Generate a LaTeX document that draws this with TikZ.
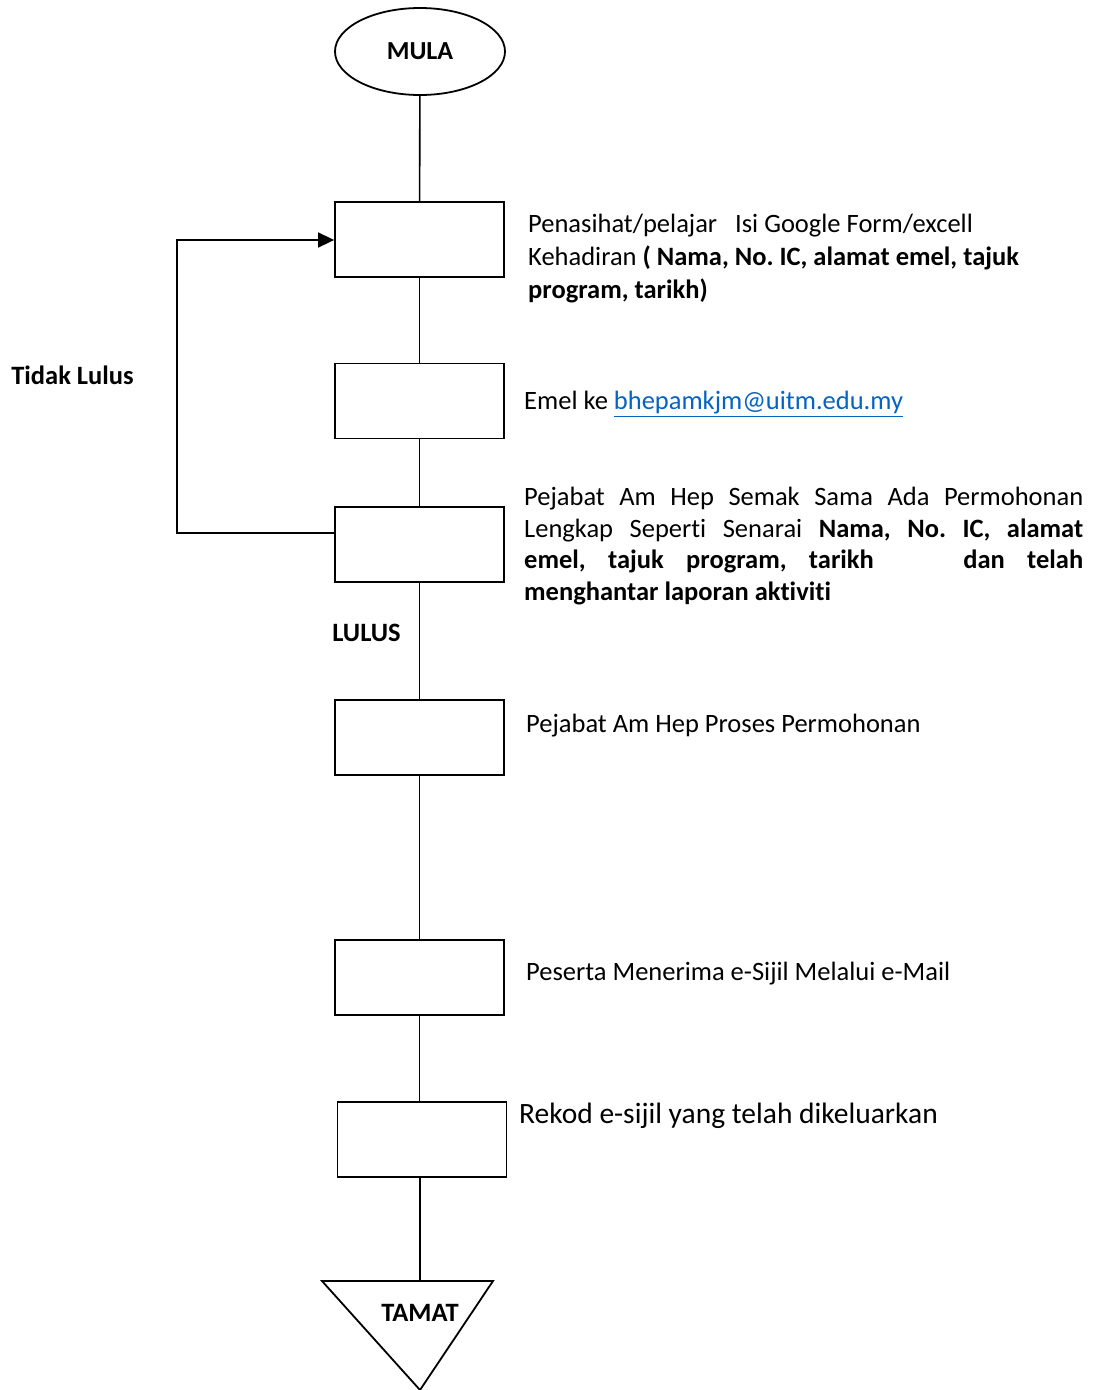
\documentclass[tikz,border=0pt]{standalone}
\usepackage{fontspec}
\setmainfont{Carlito}[Ligatures={NoCommon}]
\usetikzlibrary{arrows.meta,shapes.geometric}
\frenchspacing
\begin{document}
\begin{tikzpicture}[x=1pt,y=-1pt,
  stepbox/.style={draw,line width=1.8pt,minimum width=169pt,minimum height=75pt,inner sep=0pt},
  conn/.style={line width=1.6pt},
  desc/.style={anchor=west,inner sep=0pt,font=\fontsize{26.5}{33}\selectfont,align=left},
  lbl/.style={inner sep=0pt,font=\fontsize{26.5}{33}\selectfont\bfseries}]
\useasboundingbox (0,0) rectangle (1101,1390);
\node[draw,ellipse,line width=1.8pt,minimum width=170pt,minimum height=87pt,inner sep=0pt,font=\fontsize{26}{30}\selectfont\bfseries] (mula) at (420,51.5) {MULA};
\node[stepbox] (b1) at (419.5,239.5) {};
\node[stepbox] (b2) at (419.5,401) {};
\node[stepbox] (b3) at (419.5,544.5) {};
\node[stepbox] (b4) at (419.5,737.5) {};
\node[stepbox] (b5) at (419.5,977.5) {};
\node[stepbox] (b6) at (422,1139.5) {};
\coordinate (ttop) at (420,1281);
\draw[line width=1.8pt,fill=white] (322,1281) -- (493,1281) -- (420,1390) -- cycle;
\node[lbl] (tamat) at (420,1313) {TAMAT};
\draw[conn] (mula) -- (b1);
\draw[conn] (b1) -- (b2);
\draw[conn] (b2) -- (b3);
\draw[conn] (b3) -- (b4);
\draw[conn] (b4) -- (b5);
\draw[conn] (b5.south) -- (b5.south |- b6.north);
\draw[conn] (b6.south -| ttop) -- (ttop);
\draw[conn,-{Triangle[length=16pt,width=15pt]}] (b3.west |- 0,533) -- (177,533) -- (177,240) -- (b1.west |- 0,240);
\node[lbl] (tidak) at (72.5,375) {Tidak Lulus};
\node[lbl] (lulus) at (366.5,633) {LULUS};
\node[desc] (t1) at (528,258.5) {Penasihat/pelajar\ \ \ Isi Google Form/excell\\Kehadiran \textbf{( Nama, No. IC, alamat emel, tajuk}\\\textbf{program, tarikh)}};
\node[desc] (t2) at (524,404) {Emel ke \textcolor[RGB]{5,99,193}{\underline{bhepamkjm@uitm.edu.my}}};
\node[inner sep=0pt,anchor=west,text width=559pt,align=justify,font=\fontsize{26.5}{31.7}\selectfont] (t3) at (524,546) {Pejabat Am Hep Semak Sama Ada Permohonan\linebreak Lengkap Seperti Senarai \textbf{Nama, No. IC, alamat}\linebreak \textbf{emel, tajuk program, tarikh\ \ \ \ dan telah}\linebreak \textbf{menghantar laporan aktiviti}};
\node[desc] (t4) at (526,726) {Pejabat Am Hep Proses Permohonan};
\node[desc] (t5) at (526,974) {Peserta Menerima e-Sijil Melalui e-Mail};
\node[desc,font=\fontsize{29.5}{33}\selectfont] (t6) at (519,1116) {Rekod e-sijil yang telah dikeluarkan};
\end{tikzpicture}
\end{document}
